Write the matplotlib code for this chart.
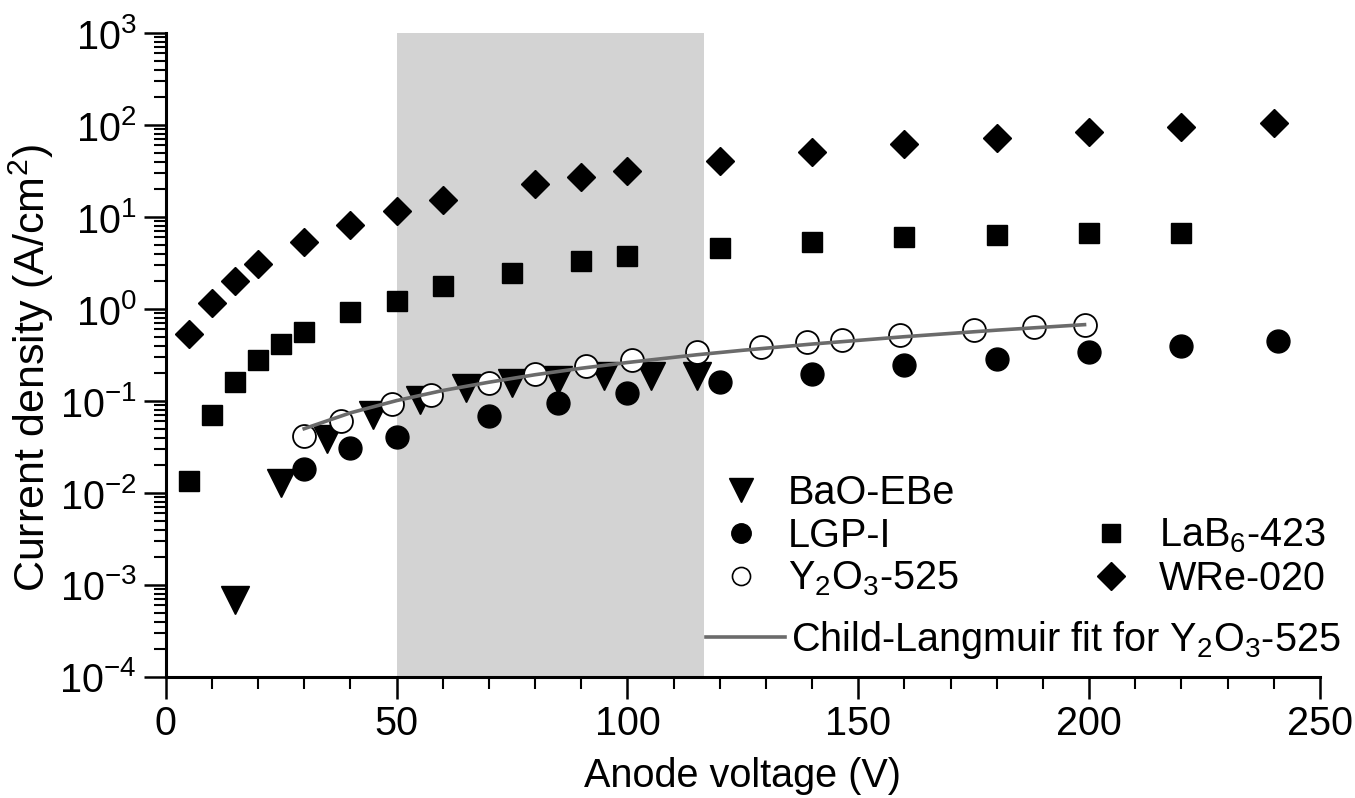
import matplotlib
matplotlib.use('Agg')
import matplotlib.pyplot as plt
from matplotlib.ticker import MultipleLocator, LogLocator, NullFormatter
from matplotlib.lines import Line2D

plt.rcParams['font.family'] = ['Liberation Sans', 'DejaVu Sans']
plt.rcParams['mathtext.fontset'] = 'custom'
plt.rcParams['mathtext.rm'] = 'Liberation Sans'
plt.rcParams['mathtext.it'] = 'Liberation Sans:italic'
plt.rcParams['mathtext.bf'] = 'Liberation Sans:bold'
plt.rcParams['mathtext.default'] = 'regular'

# ---- data ----
bao_v = [15, 25, 35, 45, 55, 65, 75, 85, 95, 105, 115]
bao_j = [0.00068, 0.0128, 0.039, 0.070, 0.103, 0.139, 0.156, 0.171, 0.185, 0.187, 0.188]

lgp_v = [30, 40, 50, 70, 85, 100, 120, 140, 160, 180, 200, 220, 241]
lgp_j = [0.0183, 0.0305, 0.041, 0.069, 0.096, 0.122, 0.159, 0.198, 0.244, 0.289, 0.341, 0.393, 0.449]

y2o3_v = [30, 38, 49, 57.5, 70, 80, 91, 101, 115, 129, 139, 146.5, 159, 175, 188, 199]
y2o3_j = [0.0413, 0.0605, 0.092, 0.117, 0.158, 0.196, 0.238, 0.28, 0.338, 0.386, 0.438, 0.465, 0.518, 0.586, 0.638, 0.665]

lab6_v = [5, 10, 15, 20, 25, 30, 40, 50, 60, 75, 90, 100, 120, 140, 160, 180, 200, 220]
lab6_j = [0.0135, 0.071, 0.161, 0.28, 0.415, 0.567, 0.93, 1.22, 1.79, 2.48, 3.3, 3.78, 4.63, 5.35, 6.07, 6.43, 6.65, 6.7]

wre_v = [5, 10, 15, 20, 30, 40, 50, 60, 80, 90, 100, 120, 140, 160, 180, 200, 220, 240]
wre_j = [0.53, 1.17, 2.04, 3.05, 5.4, 8.2, 11.7, 15.3, 22.6, 27.5, 31.7, 40.7, 50.5, 61.7, 72.9, 84.7, 95.3, 105]

fit_v = [30, 40, 50, 60, 70, 80, 90, 100, 115, 125, 140, 160, 180, 199]
fit_j = [0.050, 0.0743, 0.101, 0.130, 0.160, 0.193, 0.227, 0.262, 0.318, 0.356, 0.416, 0.50, 0.589, 0.676]

shade_range = [50, 116.5]

labels = ['BaO-EBe', 'LGP-I', 'Y$_2$O$_3$-525', 'LaB$_6$-423', 'WRe-020',
          'Child-Langmuir fit for Y$_2$O$_3$-525']

FS = 28.5
W, H = 1355, 798
fig = plt.figure(figsize=(W / 100, H / 100), dpi=100)
L, R, T, B = 165.7, 1320, 33, 677
ax = fig.add_axes([L / W, 1 - B / H, (R - L) / W, (B - T) / H])

ax.axvspan(shade_range[0], shade_range[1], color='#d3d3d3', lw=0, zorder=0)

ax.plot(wre_v, wre_j, ls='none', marker='D', ms=14, color='black', mec='black', zorder=3)
ax.plot(lab6_v, lab6_j, ls='none', marker='s', ms=15, color='black', mec='black', zorder=3)
ax.plot(lgp_v, lgp_j, ls='none', marker='o', ms=16.5, color='black', mec='black', zorder=3)
ax.plot(bao_v, bao_j, ls='none', marker='v', ms=20, color='black', mec='black', zorder=3)
ax.plot(y2o3_v, y2o3_j, ls='none', marker='o', ms=16.5, mfc='white', mec='black', mew=1.3, zorder=4)
ax.plot(fit_v, fit_j, color='#6b6b6b', lw=2.6, zorder=5)

ax.set_yscale('log')
ax.set_ylim(1e-4, 1e3)
ax.set_xlim(0, 250)
ax.xaxis.set_major_locator(MultipleLocator(50))
ax.xaxis.set_minor_locator(MultipleLocator(10))
ax.yaxis.set_major_locator(LogLocator(base=10, numticks=20))
ax.yaxis.set_minor_locator(LogLocator(base=10, subs=range(2, 10), numticks=20))
ax.yaxis.set_minor_formatter(NullFormatter())

for s in ['top', 'right']:
    ax.spines[s].set_visible(False)
for s in ['left', 'bottom']:
    ax.spines[s].set_linewidth(2.2)

ax.tick_params(which='major', direction='out', length=16, width=1.8, labelsize=FS, pad=4)
ax.tick_params(which='minor', direction='out', length=8.5, width=1.5)
ax.tick_params(axis='y', which='major', pad=5)

ax.set_xlabel('Anode voltage (V)', fontsize=FS)
ax.xaxis.set_label_coords(0.5, -0.124)
ax.set_ylabel('Current density (A/cm$^2$)', fontsize=31)
ax.yaxis.set_label_coords(-0.095, 0.48)

# legend proxies (styled like the legend glyphs in the reference)
p_bao = Line2D([], [], ls='none', marker='v', ms=17, color='black')
p_lgp = Line2D([], [], ls='none', marker='o', ms=14, color='black')
p_y = Line2D([], [], ls='none', marker='o', ms=13, mfc='white', mec='black', mew=1.2)
p_lab = Line2D([], [], ls='none', marker='s', ms=13, color='black')
p_wre = Line2D([], [], ls='none', marker='D', ms=14, color='black')
p_fit = Line2D([], [], color='#6b6b6b', lw=2.6)
blank = Line2D([], [], ls='none', marker=None)

leg1 = ax.legend([p_bao, p_lgp, p_y, blank, p_lab, p_wre],
                 [labels[0], labels[1], labels[2], '', labels[3], labels[4]],
                 ncol=2, frameon=False, fontsize=FS, loc='upper left',
                 bbox_to_anchor=(715 / W, 1 - 474 / H), bbox_transform=fig.transFigure,
                 handlelength=1.3, handletextpad=0.55, labelspacing=0.12,
                 columnspacing=3.2, borderpad=0, borderaxespad=0)
ax.add_artist(leg1)
ax.legend([p_fit], [labels[5]], frameon=False, fontsize=FS, loc='upper left',
          bbox_to_anchor=(706 / W, 1 - 619 / H), bbox_transform=fig.transFigure,
          handlelength=2.0, handletextpad=0.15, borderpad=0, borderaxespad=0)

fig.savefig('out.png', dpi=100)
